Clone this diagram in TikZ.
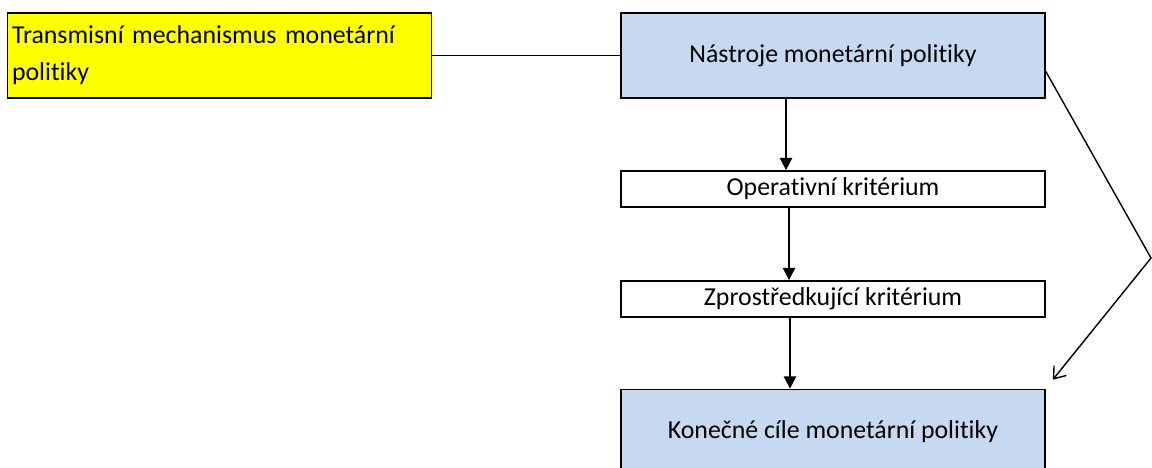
\documentclass[tikz,border=0pt]{standalone}
\usepackage{fontspec}
\setmainfont[Ligatures=NoCommon]{Carlito}
\usetikzlibrary{arrows.meta}
\definecolor{boxblue}{RGB}{198,217,240}
\definecolor{boxyellow}{RGB}{255,255,0}
\tikzset{
  box/.style={draw, line width=1pt, minimum width=8.48cm, inner sep=0pt,
    font=\fontsize{14.7}{21}\selectfont},
  bluebox/.style={box, fill=boxblue, minimum height=1.7cm},
  whitebox/.style={box, fill=white, minimum height=0.72cm},
  yellowbox/.style={box, fill=boxyellow, minimum height=1.7cm, text width=8.3cm,
    align=left},
  arr/.style={line width=1pt, -{Triangle[length=7pt, width=7pt]}},
  barb/.style={line width=0.8pt, -{Straight Barb[length=6pt, width=9pt]}}
}
\begin{document}
\begin{tikzpicture}[x=0.02cm, y=-0.02cm]
  \useasboundingbox (0,0) rectangle (1152,467);
  \node[yellowbox] (transmise) at (219.5,55.5) {Transmisní mechanismus monetární\\politiky};
  \node[bluebox] (nastroje) at (833,55.5) {Nástroje monetární politiky};
  \node[whitebox] (operativ) at (833,189) {Operativní kritérium};
  \node[whitebox] (zprostr) at (833,299) {Zprostředkující kritérium};
  \node[bluebox] (konecne) at (833,432) {Konečné cíle monetární politiky};
  \coordinate (ohyb) at (1151,258);
  \draw[line width=1pt] (transmise) -- (nastroje);
  \draw[arr] ([xshift=-0.94cm]nastroje.south) -- ([xshift=-0.94cm]operativ.north);
  \draw[arr] ([xshift=-0.88cm]operativ.south) -- ([xshift=-0.88cm]zprostr.north);
  \draw[arr] ([xshift=-0.86cm]zprostr.south) -- ([xshift=-0.86cm]konecne.north);
  \draw[barb] ([yshift=-0.32cm]nastroje.east) -- (ohyb) -- ([shift={(0.14cm,0.18cm)}]konecne.north east);
\end{tikzpicture}
\end{document}
